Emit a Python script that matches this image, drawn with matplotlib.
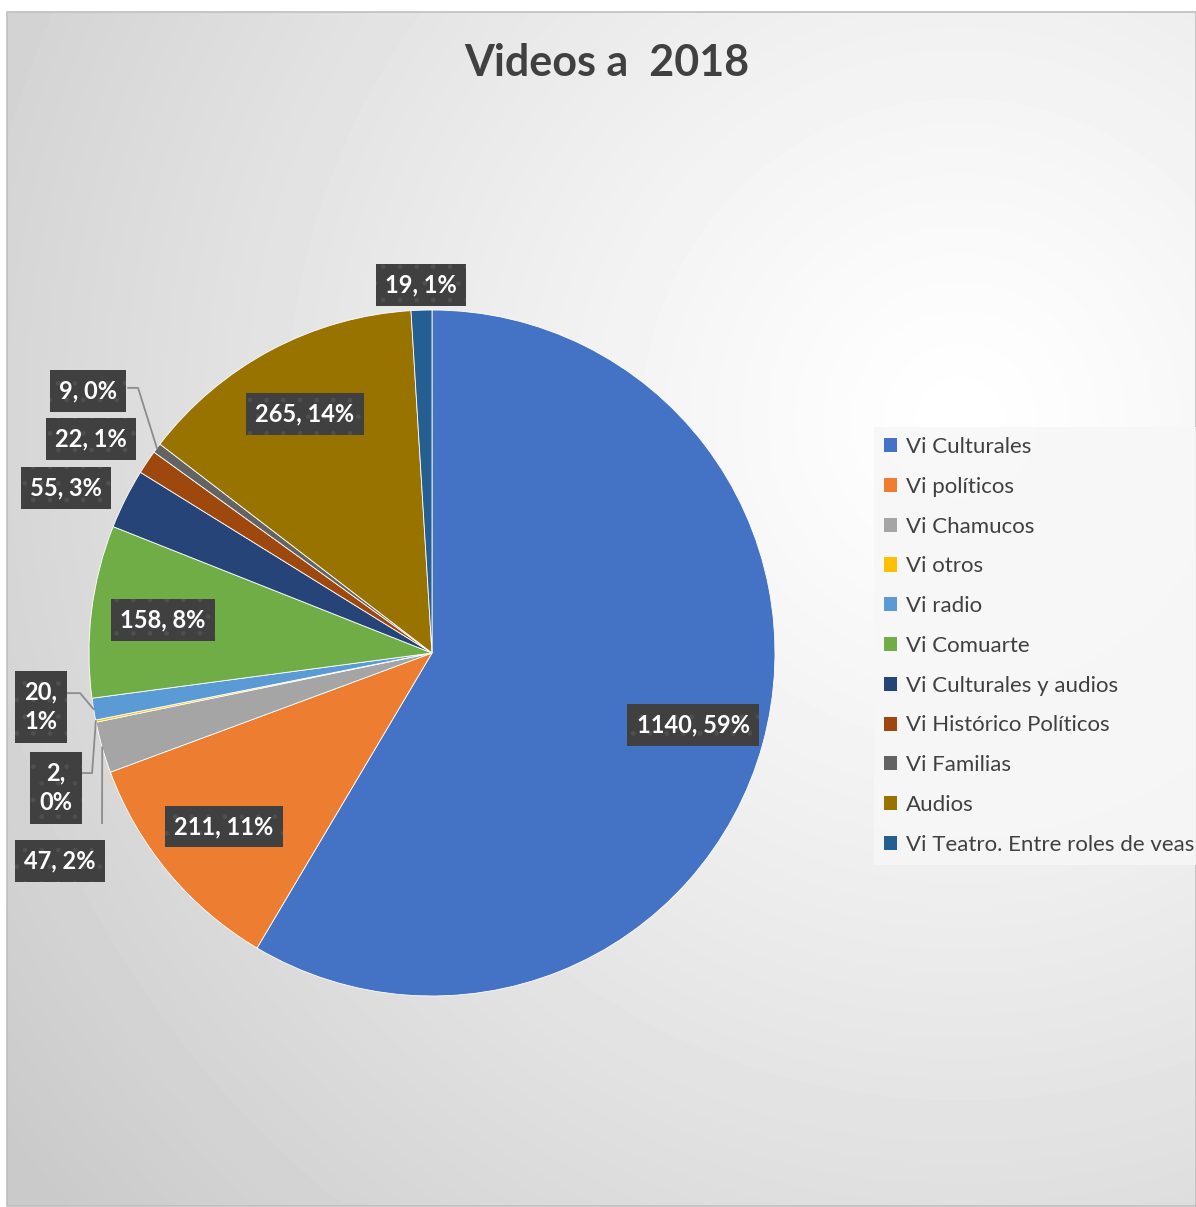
import matplotlib.pyplot as plt
import numpy as np
from matplotlib.patches import Patch, Rectangle

plt.rcParams['font.family'] = ['Lato', 'DejaVu Sans']

categories = ["Vi Culturales", "Vi políticos", "Vi Chamucos", "Vi otros", "Vi radio",
              "Vi Comuarte", "Vi Culturales y audios", "Vi Histórico Políticos",
              "Vi Familias", "Audios", "Vi Teatro. Entre roles de veas"]
values = [1140, 211, 47, 2, 20, 158, 55, 22, 9, 265, 19]
colors = ["#4472C4", "#ED7D31", "#A5A5A5", "#FFC000", "#5B9BD5", "#70AD47",
          "#264478", "#9E480E", "#636363", "#997300", "#255E91"]

# where the outside labels sit (pie radius units), None = inside the slice
label_pos = [None, None, (-1.085, -0.606), (-1.096, -0.394), (-1.140, -0.157), None,
             (-1.067, 0.481), (-0.994, 0.624), (-1.003, 0.764), None, (-0.032, 1.073)]
two_lines = [False, False, False, True, True, False, False, False, False, False, False]
# leader lines: start point at the box, x of the elbow (None = straight)
leaders = {2: ((-0.962, -0.496), None),
           3: ((-1.026, -0.350), -0.991),
           4: ((-1.064, -0.117), -1.026),
           8: ((-0.886, 0.773), -0.857)}

W, H = 1196, 1207
cx, cy, R = 432, 653, 343

fig = plt.figure(figsize=(W / 100, H / 100), dpi=100)

# background with radial gradient
bg = fig.add_axes([0, 0, 1, 1])
bg.set_xlim(0, W)
bg.set_ylim(H, 0)
bg.axis('off')
yy, xx = np.mgrid[12:1206, 7:W]
d = np.hypot((xx - 960) / W, (yy - 420) / H)
gray = 1.0 - 0.21 * np.clip(d / 1.0, 0, 1) ** 1.2
bg.imshow(gray, cmap='gray', vmin=0, vmax=1, extent=(7, W, 1206, 12), aspect='auto')
bg.add_patch(Rectangle((7, 12), W - 7, 1194, fill=False, ec='#bfbfbf', lw=1.2))

ax = fig.add_axes([0, 0, 1, 1])
ax.patch.set_alpha(0)
wedges, _ = ax.pie(values, colors=colors, startangle=90, counterclock=False, radius=1,
                   wedgeprops=dict(edgecolor='white', linewidth=0.6))
ax.set_xlim((0 - cx) / R, (W - cx) / R)
ax.set_ylim((cy - H) / R, cy / R)
ax.set_aspect('auto')
ax.axis('off')

total = sum(values)
for i, (w, v) in enumerate(zip(wedges, values)):
    mid = np.deg2rad((w.theta1 + w.theta2) / 2)
    pct = round(v / total * 100)
    sep = ",\n" if two_lines[i] else ", "
    txt = f"{v}{sep}{pct}%"
    if label_pos[i] is None:
        x, y = 0.79 * np.cos(mid), 0.79 * np.sin(mid)
    else:
        x, y = label_pos[i]
    ax.text(x, y, txt, ha='center', va='center', color='white', fontsize=17,
            fontweight='bold', linespacing=1.35, zorder=5,
            bbox=dict(boxstyle='square,pad=0.4', fc='#404040', ec='#4f4f4f',
                      lw=0, hatch='.'))
    if i in leaders:
        (sx, sy), ex = leaders[i]
        tx, ty = np.cos(mid), np.sin(mid)
        xs = [sx] + ([ex] if ex is not None else []) + [tx]
        ys = [sy] + ([sy] if ex is not None else []) + [ty]
        ax.plot(xs, ys, color='#8c8c8c', lw=1.3, zorder=4)

fig.text(607 / W, 1 - 63 / H, "Videos a  2018", ha='center', va='center',
         fontsize=31, fontweight='bold', color='#404040')

handles = [Patch(fc=c, ec='none') for c in colors]
leg = fig.legend(handles, categories, loc='upper left',
                 bbox_to_anchor=(874 / W, 1 - 427 / H), borderaxespad=0, fontsize=16,
                 frameon=True, fancybox=False, facecolor='#f7f7f7', edgecolor='none',
                 framealpha=0.85, handlelength=0.6, handleheight=0.6,
                 handletextpad=0.38, labelspacing=0.89, borderpad=0.45)
for t in leg.get_texts():
    t.set_color('#404040')

fig.savefig('out.png', dpi=100)
